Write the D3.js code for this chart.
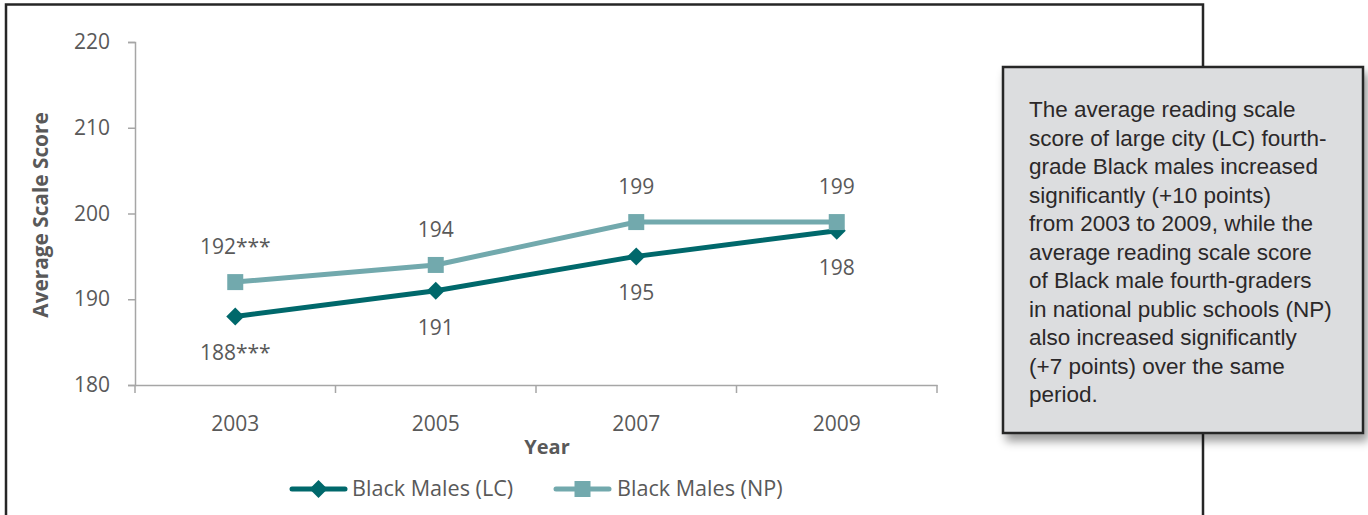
<!DOCTYPE html>
<html>
<head>
<meta charset="utf-8">
<script src="https://cdn.jsdelivr.net/npm/d3@7"></script>
<style>
  html, body { margin: 0; padding: 0; background: #fff; }
  svg { display: block; }
</style>
</head>
<body>
<svg id="chart" width="1368" height="515"></svg>
<script>
// ---- Data ----
const years = ["2003", "2005", "2007", "2009"];
const lcValues = [188, 191, 195, 198];
const npValues = [192, 194, 199, 199];
const lcLabels = ["188***", "191", "195", "198"];
const npLabels = ["192***", "194", "199", "199"];
const yTicks = [180, 190, 200, 210, 220];
const seriesNames = ["Black Males (LC)", "Black Males (NP)"];
const xTitle = "Year";
const yTitle = "Average Scale Score";
const noteLines = [
  "The average reading scale",
  "score of large city (LC) fourth-",
  "grade Black males increased",
  "significantly (+10 points)",
  "from 2003 to 2009, while the",
  "average reading scale score",
  "of Black male fourth-graders",
  "in national public schools (NP)",
  "also increased significantly",
  "(+7 points) over the same",
  "period."
];

// ---- Styles ----
const darkTeal = "#00686b";
const lightTeal = "#72a9ad";
const textGray = "#595959";
const axisGray = "#a6a6a6";
const font = "'Open Sans', sans-serif";

const svg = d3.select("#chart");

const defs = svg.append("defs");
const f = defs.append("filter").attr("id", "shadow")
  .attr("x", "-10%").attr("y", "-10%").attr("width", "130%").attr("height", "130%");
f.append("feDropShadow").attr("dx", 4).attr("dy", 7).attr("stdDeviation", 5)
  .attr("flood-color", "#000").attr("flood-opacity", 0.4);

// Outer frame (open at the bottom)
svg.append("path")
  .attr("d", "M6,520 L6,4.5 L1203,4.5 L1203,520")
  .attr("fill", "none").attr("stroke", "#262626").attr("stroke-width", 2.5);

// Scales
const x = d3.scaleBand().domain(years).range([135, 937]).padding(0);
const y = d3.scaleLinear().domain([180, 220]).range([385, 42]);

// Y axis
const yAxis = svg.append("g").attr("transform", "translate(135,0)")
  .call(d3.axisLeft(y).tickValues(yTicks).tickSize(7).tickPadding(18));
yAxis.select(".domain").attr("stroke", axisGray).attr("stroke-width", 1.5);
yAxis.selectAll(".tick line").attr("stroke", axisGray).attr("stroke-width", 1.5);
yAxis.selectAll(".tick text").attr("fill", textGray).style("font-family", font).style("font-size", "21px");

// X axis
const xAxis = svg.append("g").attr("transform", "translate(0,385)")
  .call(d3.axisBottom(x).tickSize(0).tickPadding(31));
xAxis.select(".domain").attr("stroke", axisGray).attr("stroke-width", 1.5);
xAxis.selectAll(".tick text").attr("fill", textGray).style("font-family", font).style("font-size", "21px");
// boundary ticks
const bounds = years.map(d => x(d)).concat([x(years[years.length - 1]) + x.bandwidth()]);
xAxis.selectAll(".bound").data(bounds).enter().append("line")
  .attr("x1", d => d).attr("x2", d => d).attr("y1", 0).attr("y2", 8)
  .attr("stroke", axisGray).attr("stroke-width", 1.5);

// Axis titles
svg.append("text").attr("x", 547).attr("y", 454).attr("text-anchor", "middle")
  .attr("fill", textGray).style("font-family", font).style("font-weight", "bold").style("font-size", "20px")
  .text(xTitle);
svg.append("text").attr("transform", "translate(48,215) rotate(-90)").attr("text-anchor", "middle")
  .attr("fill", textGray).style("font-family", font).style("font-weight", "bold").style("font-size", "20.8px")
  .text(yTitle);

const cx = d => x(d) + x.bandwidth() / 2;
const line = d3.line().x(d => cx(d.year)).y(d => y(d.v));
const lcData = years.map((yr, i) => ({ year: yr, v: lcValues[i], label: lcLabels[i] }));
const npData = years.map((yr, i) => ({ year: yr, v: npValues[i], label: npLabels[i] }));

const diamond = s => `M0,${-s} L${s},0 L0,${s} L${-s},0 Z`;

svg.append("path").datum(lcData).attr("d", line)
  .attr("fill", "none").attr("stroke", darkTeal).attr("stroke-width", 5);
svg.selectAll(".lcpt").data(lcData).enter().append("path")
  .attr("transform", d => `translate(${cx(d.year)},${y(d.v)})`)
  .attr("d", diamond(9)).attr("fill", darkTeal);

svg.append("path").datum(npData).attr("d", line)
  .attr("fill", "none").attr("stroke", lightTeal).attr("stroke-width", 5);
svg.selectAll(".nppt").data(npData).enter().append("rect")
  .attr("x", d => cx(d.year) - 8).attr("y", d => y(d.v) - 8)
  .attr("width", 16).attr("height", 16).attr("fill", lightTeal);

// Data labels
svg.selectAll(".nplab").data(npData).enter().append("text")
  .attr("x", d => cx(d.year)).attr("y", d => y(d.v) - 28)
  .attr("text-anchor", "middle").attr("fill", textGray)
  .style("font-family", font).style("font-size", "21px").text(d => d.label);
svg.selectAll(".lclab").data(lcData).enter().append("text")
  .attr("x", d => cx(d.year)).attr("y", d => y(d.v) + 44)
  .attr("text-anchor", "middle").attr("fill", textGray)
  .style("font-family", font).style("font-size", "21px").text(d => d.label);

// Legend
const legY = 489;
const leg = [
  { name: seriesNames[0], color: darkTeal, x0: 292, shape: "diamond", tx: 352 },
  { name: seriesNames[1], color: lightTeal, x0: 556, shape: "square", tx: 617 }
];
leg.forEach(l => {
  svg.append("line").attr("x1", l.x0).attr("x2", l.x0 + 53).attr("y1", legY).attr("y2", legY)
    .attr("stroke", l.color).attr("stroke-width", 5).attr("stroke-linecap", "round");
  if (l.shape === "diamond") {
    svg.append("path").attr("transform", `translate(${l.x0 + 26.5},${legY})`)
      .attr("d", diamond(9)).attr("fill", l.color);
  } else {
    svg.append("rect").attr("x", l.x0 + 26.5 - 8).attr("y", legY - 8)
      .attr("width", 16).attr("height", 16).attr("fill", l.color);
  }
  svg.append("text").attr("x", l.tx).attr("y", legY + 7).attr("fill", textGray)
    .style("font-family", font).style("font-size", "21.6px").text(l.name);
});

// Note box
const box = svg.append("g");
box.append("rect").attr("x", 1003).attr("y", 67).attr("width", 360).attr("height", 366)
  .attr("fill", "#dcdddf").attr("stroke", "#262626").attr("stroke-width", 2.5)
  .attr("filter", "url(#shadow)");
box.selectAll(".note").data(noteLines).enter().append("text")
  .attr("x", 1029).attr("y", (d, i) => 117 + i * 28.5)
  .attr("fill", "#2b2829")
  .style("font-family", "'Liberation Sans', Arial, sans-serif").style("font-size", "22.5px")
  .text(d => d);
</script>
</body>
</html>
